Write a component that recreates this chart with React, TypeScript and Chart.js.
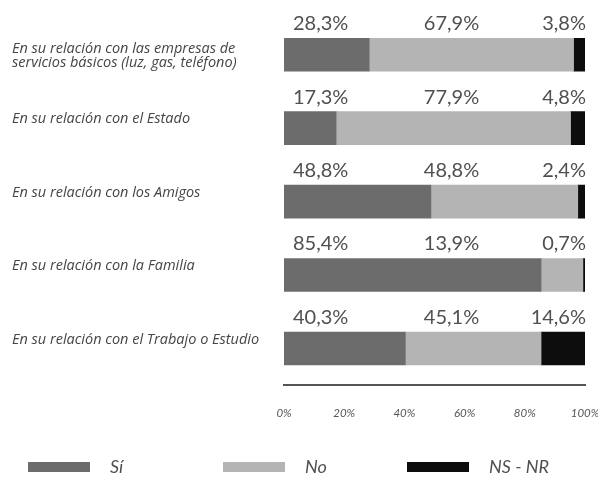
import React, { useEffect, useRef } from "react";
import { Chart, registerables } from "chart.js";

Chart.register(...registerables);

const categories: string[][] = [
  ["En su relación con las empresas de", "servicios básicos (luz, gas, teléfono)"],
  ["En su relación con el Estado"],
  ["En su relación con los Amigos"],
  ["En su relación con la Familia"],
  ["En su relación con el Trabajo o Estudio"],
];
const seriesNames = ["Sí", "No", "NS - NR"];
const siValues = [28.3, 17.3, 48.8, 85.4, 40.3];
const noValues = [67.9, 77.9, 48.8, 13.9, 45.1];
const nsValues = [3.8, 4.8, 2.4, 0.7, 14.6];
const xTicks = [0, 20, 40, 60, 80, 100];

const barColors = ["#6c6c6c", "#b4b4b4", "#0d0d0d"];
const FONT = "Lato, 'Open Sans', sans-serif";
const CAT_FONT = "'Open Sans', Lato, sans-serif";

const fmt = (v: number) => v.toFixed(1).replace(".", ",") + "%";

const overlayPlugin = {
  id: "overlay",
  afterDraw(chart: any) {
    const { ctx, chartArea } = chart;
    const yScale = chart.scales.y;
    const ds = chart.data.datasets;
    ctx.save();
    // category labels
    ctx.fillStyle = "#454545";
    ctx.font = `italic 14.5px ${CAT_FONT}`;
    ctx.textAlign = "left";
    ctx.textBaseline = "middle";
    const lineH = 14;
    categories.forEach((lines, i) => {
      const yc = yScale.getPixelForValue(i) - 9 + (lines.length - 1) * 10;
      const start = yc - ((lines.length - 1) * lineH) / 2;
      lines.forEach((ln, k) => ctx.fillText(ln, 12, start + k * lineH));
    });
    // percentage labels above bars
    ctx.fillStyle = "#505050";
    ctx.font = `20px ${FONT}`;
    ctx.textBaseline = "middle";
    const mid = (chartArea.left + chartArea.right) / 2 + 17;
    categories.forEach((_, i) => {
      const y = yScale.getPixelForValue(i) - 31;
      ctx.textAlign = "left";
      ctx.fillText(fmt(ds[0].data[i]), chartArea.left + 9, y);
      ctx.textAlign = "center";
      ctx.fillText(fmt(ds[1].data[i]), mid, y);
      ctx.textAlign = "right";
      ctx.fillText(fmt(ds[2].data[i]), chartArea.right + 1, y);
    });
    // legend
    const starts = [28, 223, 407];
    const ly = 467;
    ctx.font = `italic 18px ${FONT}`;
    ctx.textAlign = "left";
    ds.forEach((d: any, j: number) => {
      ctx.fillStyle = d.backgroundColor;
      ctx.fillRect(starts[j], ly - 5, 62, 10);
      ctx.fillStyle = "#505050";
      ctx.fillText(d.label, starts[j] + 82, ly);
    });
    ctx.restore();
  },
};

export default function App() {
  const ref = useRef<HTMLCanvasElement | null>(null);
  useEffect(() => {
    if (!ref.current) return;
    const chart = new Chart(ref.current, {
      type: "bar",
      data: {
        labels: categories.map((c) => c.join(" ")),
        datasets: [siValues, noValues, nsValues].map((vals, j) => ({
          label: seriesNames[j],
          data: vals,
          backgroundColor: barColors[j],
          borderWidth: 0,
          barThickness: 33,
        })),
      },
      options: {
        indexAxis: "y",
        animation: false,
        responsive: true,
        maintainAspectRatio: false,
        layout: { padding: { left: 284, right: 13, top: 18, bottom: 45 } },
        plugins: { legend: { display: false }, tooltip: { enabled: false } },
        scales: {
          x: {
            stacked: true,
            min: 0,
            max: 100,
            afterBuildTicks: (axis: any) => {
              axis.ticks = xTicks.map((v) => ({ value: v }));
            },
            afterFit: (axis: any) => {
              axis.paddingLeft = 0;
              axis.paddingRight = 0;
            },
            grid: { display: false },
            border: { display: true, color: "#555", width: 2 },
            ticks: {
              callback: (v: any) => v + "%",
              font: { family: FONT, size: 11.5, style: "italic" },
              color: "#555",
              padding: 13,
              maxRotation: 0,
            },
          },
          y: { stacked: true, display: false },
        },
      },
      plugins: [overlayPlugin],
    });
    return () => chart.destroy();
  }, []);
  return (
    <div style={{ position: "fixed", left: 0, top: 0, width: 598, height: 478, background: "#fff" }}>
      <canvas ref={ref} />
    </div>
  );
}
